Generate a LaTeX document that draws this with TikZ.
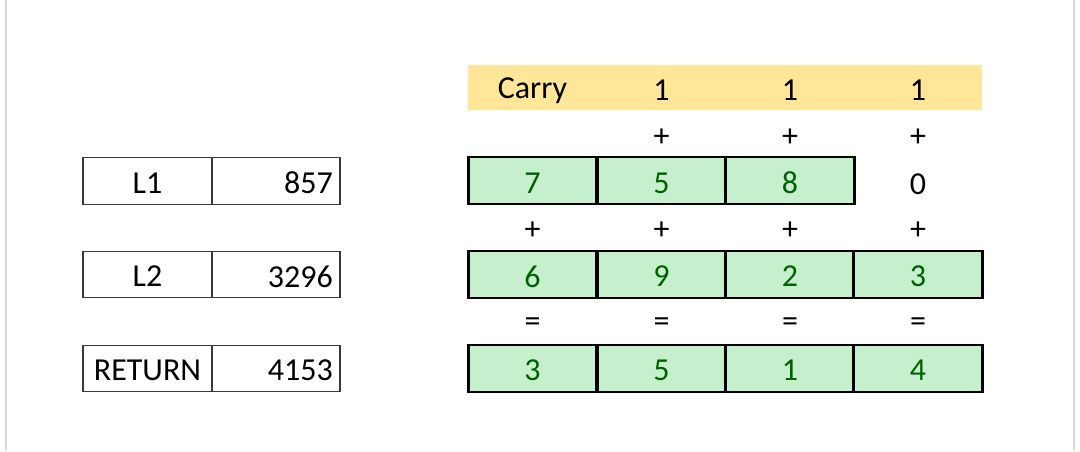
\documentclass[tikz,border=0pt]{standalone}
\usepackage{fontspec}
\setmainfont{Carlito}
\definecolor{carryfill}{HTML}{FFE699}
\definecolor{goodfill}{HTML}{C6EFCE}
\definecolor{goodtext}{HTML}{006100}
\definecolor{sideline}{HTML}{D9D9D9}
\definecolor{thinline}{HTML}{3A3A3A}
\tikzset{
  every node/.style={font=\fontsize{32}{36}\selectfont, inner sep=0pt},
  leftcell/.style={draw=thinline, line width=1.3pt, minimum height=46.5pt},
  greencell/.style={draw=black, line width=2.6pt, fill=goodfill, text=goodtext, minimum width=128.5pt, minimum height=47pt},
  opsign/.style={text=black},
}
\begin{document}
\begin{tikzpicture}[x=1pt,y=-1pt]
\useasboundingbox (0,0) rectangle (1080,451);
\fill[white] (0,0) rectangle (1080,451);
\draw[sideline, line width=2pt] (6,0) -- (6,451);
\draw[sideline, line width=2pt] (1074,0) -- (1074,451);

% left table
\node[leftcell, minimum width=129pt] (l1a) at (147.5,181) {};
\node (l1t) at (147.5,183) {L1};
\node[leftcell, minimum width=128pt] (l1b) at (276,181) {};
\node[anchor=east] (l1v) at (333,183) {857};
\node[leftcell, minimum width=129pt] (l2a) at (147.5,274.5) {};
\node (l2t) at (147.5,276.5) {L2};
\node[leftcell, minimum width=128pt] (l2b) at (276,274.5) {};
\node[anchor=east] (l2v) at (333,276.5) {3296};
\node[leftcell, minimum width=129pt] (l3a) at (147.5,368.5) {};
\node (l3t) at (147.5,370.5) {RETURN};
\node[leftcell, minimum width=128pt] (l3b) at (276,368.5) {};
\node[anchor=east] (l3v) at (333,370.5) {4153};

% carry band
\node[fill=carryfill, minimum width=514pt, minimum height=45pt] (band) at (725,87.5) {};
\node (carry) at (532.5,91) {Carry};
\node (k2) at (661.5,90) {1};
\node (k3) at (790,90) {1};
\node (k4) at (918,90) {1};

% plus signs
\node[opsign] (p12) at (661.5,138) {+};
\node[opsign] (p13) at (790,138) {+};
\node[opsign] (p14) at (918,138) {+};

% row 1
\node[greencell] (a1) at (532.5,180.5) {};
\node[text=goodtext] (a1t) at (532.5,183) {7};
\node[greencell] (a2) at (661.5,180.5) {};
\node[text=goodtext] (a2t) at (661.5,183) {5};
\node[greencell] (a3) at (790,180.5) {};
\node[text=goodtext] (a3t) at (790,183) {8};
\node (a4) at (918,184) {0};

\node[opsign] (p21) at (532.5,231) {+};
\node[opsign] (p22) at (661.5,231) {+};
\node[opsign] (p23) at (790,231) {+};
\node[opsign] (p24) at (918,231) {+};

% row 2
\node[greencell] (b1) at (532.5,274.5) {};
\node[text=goodtext] (b1t) at (532.5,276.5) {6};
\node[greencell] (b2) at (661.5,274.5) {};
\node[text=goodtext] (b2t) at (661.5,276.5) {9};
\node[greencell] (b3) at (790,274.5) {};
\node[text=goodtext] (b3t) at (790,276.5) {2};
\node[greencell] (b4) at (918,274.5) {};
\node[text=goodtext] (b4t) at (918,276.5) {3};

\node[opsign] (e1) at (532.5,325) {=};
\node[opsign] (e2) at (661.5,325) {=};
\node[opsign] (e3) at (790,325) {=};
\node[opsign] (e4) at (918,325) {=};

% row 3
\node[greencell] (c1) at (532.5,368.5) {};
\node[text=goodtext] (c1t) at (532.5,370.5) {3};
\node[greencell] (c2) at (661.5,368.5) {};
\node[text=goodtext] (c2t) at (661.5,370.5) {5};
\node[greencell] (c3) at (790,368.5) {};
\node[text=goodtext] (c3t) at (790,370.5) {1};
\node[greencell] (c4) at (918,368.5) {};
\node[text=goodtext] (c4t) at (918,370.5) {4};
\end{tikzpicture}
\end{document}
